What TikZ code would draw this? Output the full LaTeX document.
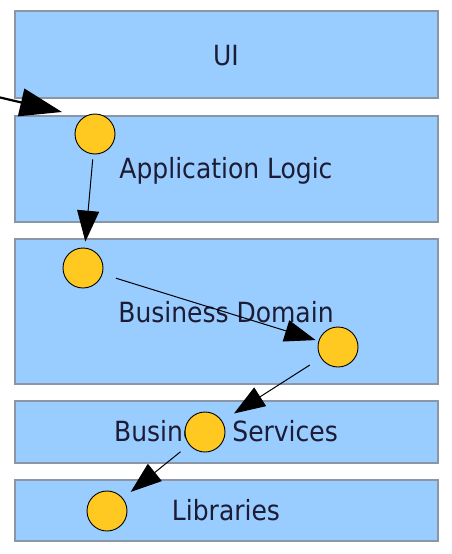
\documentclass[tikz,border=0pt]{standalone}
\usepackage{fontspec}
\setmainfont{DejaVu Sans Condensed}
\usetikzlibrary{arrows.meta}
\definecolor{layerblue}{HTML}{99CCFF}
\definecolor{layerline}{HTML}{8A96A6}
\definecolor{stepgold}{HTML}{FFC922}
\definecolor{labelink}{HTML}{1C1C34}
\tikzset{
	layer/.style={fill=layerblue, draw=layerline, line width=1.3pt},
	layertext/.style={anchor=base, text=labelink, font=\fontsize{27.8}{30}\selectfont, inner sep=0pt},
	stepdot/.style={circle, fill=stepgold, draw=black, line width=0.9pt, minimum size=40pt, inner sep=0pt},
	flow/.style={line width=1pt, -{Triangle[length=31pt,width=22pt]}},
}

\begin{document}
\begin{tikzpicture}[x=1pt, y=-1pt]
		%%%%% START %%%%%
		\useasboundingbox (0, 0) rectangle (451, 554);
		
		\draw[layer] (15, 11) rectangle (438, 98);
		\node[layertext] (ui) at (226, 65.5) {UI};
		
		\draw[layer] (15, 116) rectangle (438, 222);
		\node[layertext] (applogic) at (226, 178) {Application Logic};
		
		\draw[layer] (15, 239) rectangle (438, 384);
		\node[layertext] (domain) at (226, 322) {Business Domain};
		
		\draw[layer] (15, 401) rectangle (438, 463);
		\node[layertext] (services) at (226, 441.5) {Business Services};
		
		\draw[layer] (15, 480) rectangle (438, 541);
		\node[layertext] (libs) at (226, 520) {Libraries};
		
		\node[stepdot] (s1) at (95, 134) {};
		\node[stepdot] (s2) at (83, 268) {};
		\node[stepdot] (s3) at (338, 347) {};
		\node[stepdot] (s4) at (205, 432) {};
		\node[stepdot] (s5) at (107, 511) {};
		
		\coordinate (entry) at (-2, 97);
		\coordinate (entrytip) at (62, 112);
		\draw[line width=2.2pt, -{Triangle[length=42pt,width=28pt]}] (entry) -- (entrytip);
		
		\draw[flow, shorten <=5pt, shorten >=6pt] (s1) -- (s2);
		\draw[flow, shorten <=14pt, shorten >=3pt] (s2) -- (s3);
		\draw[flow, shorten <=13pt, shorten >=14pt] (s3) -- (s4);
		\draw[flow, shorten <=11pt, shorten >=10pt] (s4) -- (s5);
		
		%%%%% END %%%%%
	\end{tikzpicture}
\end{document}
